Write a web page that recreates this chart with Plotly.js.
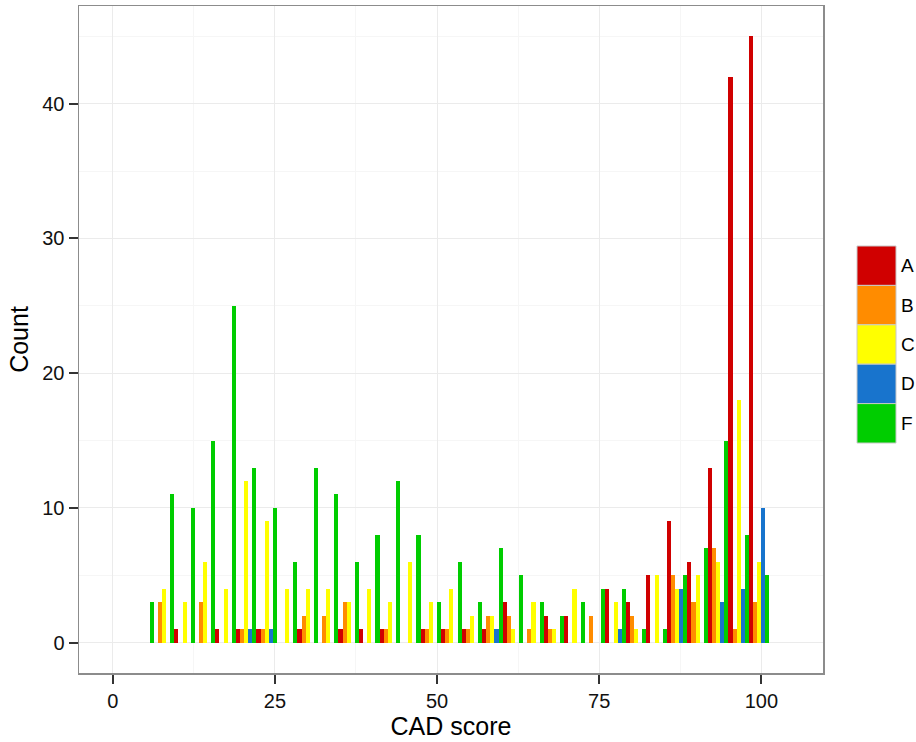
<!DOCTYPE html>
<html>
<head>
<meta charset="utf-8">
<script src="https://cdn.plot.ly/plotly-3.0.1.min.js"></script>
<style>
  html, body { margin: 0; padding: 0; background: #ffffff; }
  #chart { width: 916px; height: 742px; }
</style>
</head>
<body>
<div id="chart"></div>
<script>
// Histogram bins of CAD score (bin centres), one count per grade
const binCenters = [4.746, 7.910, 11.074, 14.238, 17.402, 20.566, 23.730, 26.894,
  30.058, 33.222, 36.386, 39.550, 42.714, 45.878, 49.042, 52.206, 55.370, 58.534,
  61.698, 64.862, 68.026, 71.190, 74.354, 77.518, 80.682, 83.846, 87.010, 90.174,
  93.338, 96.502, 99.666];

const grades = ["A", "B", "C", "D", "F"];

const countsA = [0, 0, 1, 0, 1, 1, 1, 0, 1, 0, 1, 1, 1, 0, 1, 1, 1, 1, 3, 0, 2, 2, 0, 4, 3, 5, 9, 6, 13, 42, 45];
const countsB = [0, 3, 0, 3, 0, 1, 1, 0, 2, 2, 3, 0, 1, 0, 1, 1, 1, 2, 2, 1, 1, 0, 2, 0, 2, 0, 5, 3, 7, 1, 3];
const countsC = [0, 4, 3, 6, 4, 12, 9, 4, 4, 4, 3, 4, 3, 6, 3, 4, 2, 2, 1, 3, 1, 4, 0, 3, 1, 5, 4, 5, 6, 18, 6];
const countsD = [0, 0, 0, 0, 0, 1, 1, 0, 0, 0, 0, 0, 0, 0, 0, 0, 0, 1, 0, 0, 0, 0, 0, 1, 0, 0, 4, 0, 3, 4, 10];
const countsF = [3, 11, 10, 15, 25, 13, 10, 6, 13, 11, 6, 8, 12, 8, 3, 6, 3, 7, 5, 3, 2, 3, 4, 4, 1, 1, 5, 7, 15, 8, 5];

const xTickVals = [0, 25, 50, 75, 100];
const yTickVals = [0, 10, 20, 30, 40];

const gradeColors = ["#d00000", "#ff8c00", "#ffff00", "#1874cd", "#00cd00"];
const seriesCounts = [countsA, countsB, countsC, countsD, countsF];

const traces = grades.map((g, i) => ({
  type: "bar",
  name: g,
  x: binCenters,
  y: seriesCounts[i],
  marker: { color: gradeColors[i], line: { width: 0 } },
  showlegend: false,
  hoverinfo: "x+y+name"
}));

// Plot area geometry (pixels) used to place the key boxes beside the panel
const W = 916, H = 742;
const mL = 79, mR = 93, mT = 6, mB = 69;
const pw = W - mL - mR, ph = H - mT - mB;
const px = v => (v - mL) / pw;
const py = v => (H - mB - v) / ph;

const keyLeft = 857, keyRight = 896, keyTop = 246, keyH = 39.4;
const shapes = [];
const annotations = [];
grades.forEach((g, i) => {
  const top = keyTop + i * keyH;
  shapes.push({
    type: "rect", xref: "paper", yref: "paper",
    x0: px(keyLeft), x1: px(keyRight),
    y0: py(top + keyH), y1: py(top),
    fillcolor: gradeColors[i],
    line: { color: "#c8c8c8", width: 1 }
  });
  annotations.push({
    xref: "paper", yref: "paper",
    x: px(899), y: py(top + keyH / 2),
    xanchor: "left", yanchor: "middle",
    text: g, showarrow: false,
    font: { family: "Liberation Sans, Arial, sans-serif", size: 19, color: "#000000" }
  });
});

const tickFont = { family: "Liberation Sans, Arial, sans-serif", size: 20, color: "#111111" };
const titleFont = { family: "Liberation Sans, Arial, sans-serif", size: 25, color: "#000000" };

const layout = {
  width: W, height: H,
  margin: { l: mL, r: mR, t: mT, b: mB, pad: 0 },
  paper_bgcolor: "#ffffff",
  plot_bgcolor: "#ffffff",
  barmode: "group",
  bargap: 0,
  bargroupgap: 0,
  showlegend: false,
  xaxis: {
    range: [-5.2, 109.5],
    tickvals: xTickVals,
    ticktext: xTickVals.map(String),
    ticks: "outside", ticklen: 9, tickwidth: 2, tickcolor: "#333333",
    tickfont: tickFont,
    showgrid: true, gridcolor: "#ebebeb", gridwidth: 1,
    minor: { dtick: 12.5, tick0: 0, showgrid: true, gridcolor: "#f6f6f6", gridwidth: 1 },
    zeroline: false,
    showline: true, linecolor: "#8c8c8c", linewidth: 1.5, mirror: true,
    title: { text: "CAD score", font: titleFont, standoff: 6 },
    fixedrange: true
  },
  yaxis: {
    range: [-2.25, 47.25],
    tickvals: yTickVals,
    ticktext: yTickVals.map(String),
    ticks: "outside", ticklen: 9, tickwidth: 2, tickcolor: "#333333",
    tickfont: tickFont,
    showgrid: true, gridcolor: "#ebebeb", gridwidth: 1,
    minor: { dtick: 5, tick0: 0, showgrid: true, gridcolor: "#f6f6f6", gridwidth: 1 },
    zeroline: false,
    showline: true, linecolor: "#8c8c8c", linewidth: 1.5, mirror: true,
    title: { text: "Count", font: titleFont, standoff: 6 },
    fixedrange: true
  },
  shapes: shapes,
  annotations: annotations
};

Plotly.newPlot("chart", traces, layout, { displayModeBar: false, staticPlot: true });
</script>
</body>
</html>
